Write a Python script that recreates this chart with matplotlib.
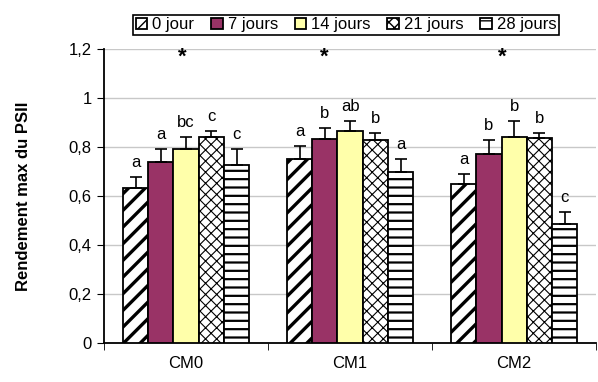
import numpy as np
import matplotlib.pyplot as plt

plt.rcParams['font.family'] = ['Liberation Sans', 'DejaVu Sans']

# --- data ---
sites = ['CM0', 'CM1', 'CM2']
durees = ['0 jour', '7 jours', '14 jours', '21 jours', '28 jours']
# rendement (Fv/Fm) per duration, one value per site
moyennes = [
    [0.631, 0.752, 0.649],   # 0 jour
    [0.737, 0.834, 0.771],   # 7 jours
    [0.792, 0.864, 0.841],   # 14 jours
    [0.842, 0.829, 0.836],   # 21 jours
    [0.727, 0.697, 0.486],   # 28 jours
]
erreurs = [
    [0.045, 0.053, 0.041],
    [0.056, 0.042, 0.057],
    [0.049, 0.041, 0.064],
    [0.022, 0.027, 0.020],
    [0.066, 0.054, 0.050],
]
lettres = [
    ['a', 'a', 'a'],
    ['a', 'b', 'b'],
    ['bc', 'ab', 'b'],
    ['c', 'b', 'b'],
    ['c', 'a', 'c'],
]
# significance stars over each site
etoiles_x = [-0.02, -0.16, -0.07]

couleurs = ['white', '#993366', '#FFFFAA', 'white', 'white']
motifs = ['//', None, None, 'xxx', '--']
epaisseurs_motif = [2.4, 1.0, 1.0, 0.8, 1.6]

fig = plt.figure(figsize=(5.98, 3.82), dpi=100)
ax = fig.add_axes([0.174, 0.102, 0.823, 0.770])

x = np.arange(len(sites))
w = 0.154
for i in range(len(durees)):
    pos = x + (i - 2) * w
    with plt.rc_context({'hatch.linewidth': epaisseurs_motif[i]}):
        ax.bar(pos, moyennes[i], w, color=couleurs[i], edgecolor='black',
               linewidth=1.3, hatch=motifs[i], label=durees[i], zorder=3)
    ax.errorbar(pos, moyennes[i], yerr=[np.zeros(3), erreurs[i]], fmt='none',
                ecolor='black', elinewidth=1.2, capsize=4, capthick=1.2, zorder=4)
    for p, m, e, t in zip(pos, moyennes[i], erreurs[i], lettres[i]):
        ax.annotate(t, (p, m + e), xytext=(0, 5), textcoords='offset points',
                    ha='center', va='bottom', fontsize=12)

for xs, xi in zip(etoiles_x, x):
    ax.text(xi + xs, 1.165, '*', ha='center', va='center', fontsize=16,
            fontweight='bold')

ax.set_xlim(-0.5, 2.5)
ax.set_ylim(0, 1.2)
ax.set_yticks(np.arange(0, 1.21, 0.2))
ax.set_yticklabels(['0', '0,2', '0,4', '0,6', '0,8', '1', '1,2'], fontsize=12)
ax.set_xticks(x)
ax.set_xticklabels(sites, fontsize=12)
ax.set_xticks([-0.5, 0.5, 1.5, 2.5], minor=True)
ax.tick_params(axis='x', which='major', length=0, pad=9)
ax.tick_params(axis='x', which='minor', length=5, direction='out')
ax.tick_params(axis='y', length=5, direction='out', pad=4)
ax.yaxis.grid(True, color='#c8c8c8', linewidth=1, zorder=0)
ax.set_axisbelow(True)
for s in ['top', 'right']:
    ax.spines[s].set_visible(False)
ax.spines['left'].set_linewidth(1.3)
ax.spines['bottom'].set_linewidth(1.3)

ax.set_ylabel('Rendement max du PSII', fontsize=12, fontweight='bold', labelpad=27)

leg = fig.legend(loc='center', bbox_to_anchor=(0.579, 0.935), ncol=5,
                 fontsize=12, handlelength=0.7, handleheight=0.7,
                 handletextpad=0.3, columnspacing=1.0, borderpad=0.15,
                 fancybox=False, edgecolor='black', framealpha=1)
leg.get_frame().set_linewidth(1.2)

fig.savefig('out.png', dpi=100)
